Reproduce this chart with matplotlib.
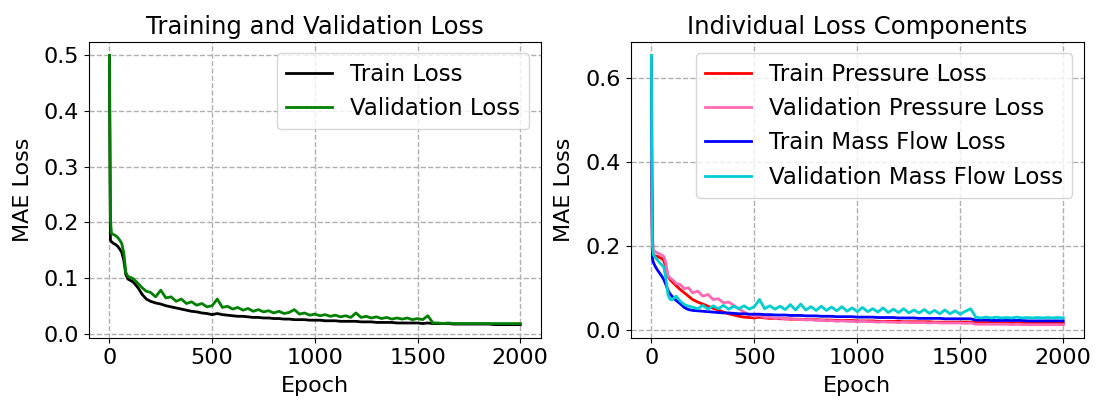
import matplotlib
matplotlib.use("Agg")
import matplotlib.pyplot as plt

epochs = [0, 5, 10, 20, 30, 40, 50, 60, 70, 80, 90, 100, 110, 120, 140, 160, 180,
          200, 225, 250, 275, 300, 325, 350, 375, 400, 425,
          450, 475, 500, 525, 550, 575, 600, 625, 650, 675,
          700, 725, 750, 775, 800, 825, 850, 875, 900, 925,
          950, 975, 1000, 1025, 1050, 1075, 1100, 1125, 1150, 1175,
          1200, 1225, 1250, 1275, 1300, 1325, 1350, 1375, 1400, 1425,
          1450, 1475, 1500, 1525, 1550, 1575, 1600, 1625, 1650, 1675,
          1700, 1725, 1750, 1775, 1800, 1825, 1850, 1875, 1900, 1925,
          1950, 1975, 2000]

train_loss = [0.500, 0.168, 0.165, 0.162, 0.160, 0.157, 0.152, 0.146, 0.132, 0.106, 0.098, 0.096, 0.094, 0.091, 0.082, 0.070, 0.062,
              0.058, 0.055, 0.053, 0.050, 0.048, 0.046, 0.044, 0.042, 0.040, 0.039,
              0.037, 0.036, 0.034, 0.036, 0.034, 0.033, 0.032, 0.031, 0.031, 0.030,
              0.029, 0.029, 0.028, 0.028, 0.027, 0.027, 0.026, 0.026, 0.025, 0.025,
              0.025, 0.024, 0.024, 0.024, 0.023, 0.023, 0.023, 0.022, 0.022, 0.022,
              0.022, 0.021, 0.021, 0.021, 0.020, 0.020, 0.020, 0.020, 0.019, 0.019,
              0.019, 0.019, 0.019, 0.018, 0.019, 0.018, 0.018, 0.018, 0.018, 0.017,
              0.017, 0.017, 0.017, 0.017, 0.017, 0.017, 0.017, 0.016, 0.016, 0.016,
              0.016, 0.016, 0.016]

val_loss = [0.500, 0.205, 0.180, 0.178, 0.176, 0.173, 0.168, 0.162, 0.145, 0.110, 0.103, 0.101, 0.100, 0.097, 0.090, 0.082, 0.076,
            0.074, 0.066, 0.078, 0.064, 0.066, 0.058, 0.062, 0.054, 0.057, 0.051,
            0.054, 0.048, 0.050, 0.062, 0.047, 0.049, 0.044, 0.047, 0.042, 0.045,
            0.040, 0.043, 0.039, 0.041, 0.037, 0.040, 0.036, 0.038, 0.043, 0.035,
            0.037, 0.033, 0.035, 0.032, 0.034, 0.031, 0.033, 0.030, 0.032, 0.029,
            0.037, 0.029, 0.031, 0.028, 0.030, 0.027, 0.029, 0.026, 0.028, 0.026,
            0.028, 0.025, 0.027, 0.025, 0.032, 0.019, 0.019, 0.018, 0.019, 0.018,
            0.018, 0.018, 0.018, 0.018, 0.018, 0.018, 0.018, 0.018, 0.018, 0.018,
            0.018, 0.018, 0.018]

train_pressure = [0.400, 0.190, 0.178, 0.176, 0.175, 0.172, 0.170, 0.165, 0.150, 0.128, 0.120, 0.115, 0.110, 0.105, 0.096, 0.088, 0.080,
                  0.072, 0.066, 0.061, 0.056, 0.051, 0.047, 0.042, 0.038, 0.035, 0.032,
                  0.030, 0.029, 0.028, 0.030, 0.028, 0.027, 0.027, 0.026, 0.026, 0.025,
                  0.025, 0.025, 0.024, 0.024, 0.024, 0.023, 0.023, 0.023, 0.022, 0.022,
                  0.022, 0.022, 0.021, 0.021, 0.021, 0.021, 0.020, 0.020, 0.020, 0.020,
                  0.020, 0.019, 0.019, 0.019, 0.019, 0.019, 0.019, 0.018, 0.018, 0.018,
                  0.018, 0.018, 0.018, 0.018, 0.018, 0.017, 0.017, 0.017, 0.017, 0.017,
                  0.016, 0.016, 0.016, 0.016, 0.016, 0.016, 0.016, 0.016, 0.015, 0.015,
                  0.015, 0.015, 0.015]

val_pressure = [0.400, 0.225, 0.190, 0.186, 0.183, 0.181, 0.178, 0.175, 0.160, 0.130, 0.124, 0.120, 0.116, 0.110, 0.108, 0.098, 0.100,
                0.088, 0.092, 0.080, 0.084, 0.072, 0.074, 0.064, 0.066, 0.058, 0.050,
                0.042, 0.036, 0.032, 0.034, 0.029, 0.030, 0.027, 0.028, 0.025, 0.027,
                0.024, 0.025, 0.023, 0.024, 0.022, 0.023, 0.021, 0.022, 0.020, 0.021,
                0.020, 0.020, 0.019, 0.020, 0.019, 0.019, 0.018, 0.019, 0.018, 0.018,
                0.017, 0.018, 0.017, 0.017, 0.017, 0.017, 0.016, 0.017, 0.016, 0.016,
                0.016, 0.016, 0.016, 0.015, 0.016, 0.013, 0.013, 0.013, 0.013, 0.013,
                0.013, 0.013, 0.012, 0.013, 0.012, 0.012, 0.012, 0.012, 0.012, 0.012,
                0.012, 0.012, 0.012]

train_massflow = [0.650, 0.170, 0.160, 0.150, 0.142, 0.135, 0.128, 0.120, 0.108, 0.095, 0.086, 0.080, 0.074, 0.070, 0.062, 0.053, 0.048,
                  0.046, 0.045, 0.044, 0.043, 0.042, 0.041, 0.040, 0.040, 0.039, 0.038,
                  0.038, 0.037, 0.037, 0.037, 0.036, 0.036, 0.035, 0.035, 0.035, 0.034,
                  0.034, 0.034, 0.033, 0.033, 0.033, 0.032, 0.032, 0.032, 0.031, 0.031,
                  0.031, 0.031, 0.030, 0.030, 0.030, 0.030, 0.029, 0.029, 0.029, 0.029,
                  0.028, 0.028, 0.028, 0.028, 0.027, 0.027, 0.027, 0.027, 0.027, 0.026,
                  0.026, 0.026, 0.026, 0.026, 0.026, 0.023, 0.023, 0.023, 0.022, 0.022,
                  0.022, 0.022, 0.022, 0.022, 0.022, 0.021, 0.021, 0.021, 0.021, 0.021,
                  0.021, 0.021, 0.021]

val_massflow = [0.655, 0.200, 0.178, 0.172, 0.166, 0.160, 0.155, 0.150, 0.125, 0.085, 0.073, 0.071, 0.076, 0.080, 0.068, 0.060, 0.056,
                0.054, 0.050, 0.058, 0.049, 0.057, 0.050, 0.058, 0.049, 0.056, 0.050,
                0.057, 0.049, 0.055, 0.072, 0.050, 0.057, 0.049, 0.056, 0.048, 0.060,
                0.047, 0.061, 0.047, 0.055, 0.046, 0.056, 0.046, 0.054, 0.045, 0.055,
                0.044, 0.052, 0.043, 0.053, 0.043, 0.050, 0.042, 0.052, 0.041, 0.049,
                0.041, 0.050, 0.040, 0.047, 0.040, 0.048, 0.039, 0.046, 0.038, 0.047,
                0.038, 0.045, 0.037, 0.044, 0.050, 0.030, 0.028, 0.030, 0.028, 0.030,
                0.028, 0.029, 0.028, 0.030, 0.028, 0.029, 0.028, 0.029, 0.028, 0.029,
                0.028, 0.029, 0.028]

plt.rcParams['font.family'] = ['DejaVu Sans']
plt.rcParams['font.size'] = 16

fig = plt.figure(figsize=(10.97, 4.03), dpi=100)
ax1 = fig.add_axes([0.081, 0.161, 0.412, 0.735])
ax2 = fig.add_axes([0.575, 0.161, 0.413, 0.735])

for ax in (ax1, ax2):
    ax.tick_params(labelsize=16)

ax1.plot(epochs, train_loss, color='black', lw=2, label='Train Loss')
ax1.plot(epochs, val_loss, color='green', lw=2, label='Validation Loss')
ax1.set_title('Training and Validation Loss', fontsize=17.5)
ax1.set_xlabel('Epoch', fontsize=16, labelpad=6)
ax1.set_ylabel('MAE Loss', fontsize=16, labelpad=8)
ax1.set_xticks([0, 500, 1000, 1500, 2000])
ax1.set_yticks([0.0, 0.1, 0.2, 0.3, 0.4, 0.5])
ax1.grid(True, linestyle='--', color='#b0b0b0', lw=1)
ax1.legend(loc='upper right', fontsize=16.5)

ax2.plot(epochs, train_pressure, color='red', lw=2, label='Train Pressure Loss')
ax2.plot(epochs, val_pressure, color='hotpink', lw=2, label='Validation Pressure Loss')
ax2.plot(epochs, train_massflow, color='blue', lw=2, label='Train Mass Flow Loss')
ax2.plot(epochs, val_massflow, color='darkturquoise', lw=2, label='Validation Mass Flow Loss')
ax2.set_title('Individual Loss Components', fontsize=17.5)
ax2.set_xlabel('Epoch', fontsize=16, labelpad=6)
ax2.set_ylabel('MAE Loss', fontsize=16, labelpad=8)
ax2.set_xticks([0, 500, 1000, 1500, 2000])
ax2.set_yticks([0.0, 0.2, 0.4, 0.6])
ax2.grid(True, linestyle='--', color='#b0b0b0', lw=1)
ax2.legend(loc='upper right', fontsize=16.5)

fig.savefig('out.png', dpi=100)
